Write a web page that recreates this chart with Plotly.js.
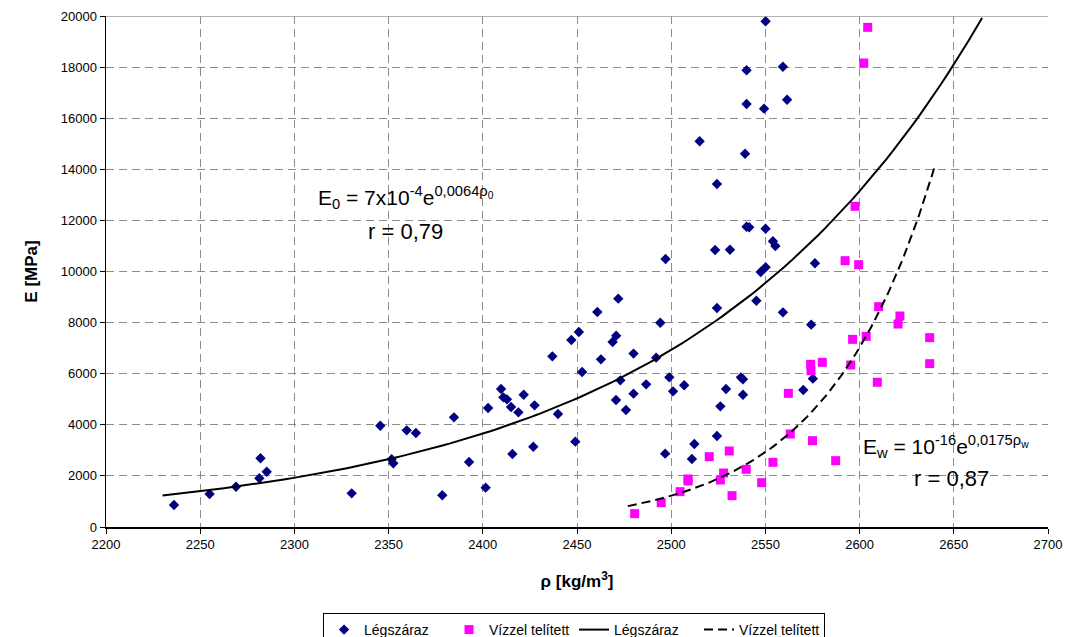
<!DOCTYPE html>
<html>
<head>
<meta charset="utf-8">
<script src="https://cdn.plot.ly/plotly-3.0.1.min.js"></script>
<style>html,body{margin:0;padding:0;background:#fff;}#chart{width:1075px;height:637px;}</style>
</head>
<body>
<div id="chart"></div>
<script>
// Légszáraz (air-dry) measurements
const dryRho = [2236.1,2255,2269,2281.4,2282,2285.3,2330.4,2345.6,2351.6,2352.5,2359.6,2364.5,2378.5,2384.7,2392.7,2401.5,2402.8,2409.7,2410.9,2412.8,2415,2415.7,2418.9,2421.7,2426.8,2427.5,2436.9,2439.9,2447,2449.1,2451,2452.7,2460.8,2462.7,2468.9,2470.8,2471.9,2470.7,2473,2476,2480,2480,2486.7,2492,2494.2,2497,2496.8,2499,2501,2506.9,2511,2512.3,2515.1,2523.3,2524.3,2524.3,2524.3,2526.1,2529.1,2531.2,2537,2538.1,2538.1,2539.2,2540,2540,2540,2541.4,2545.2,2547.5,2549.3,2550.1,2550.1,2550.1,2554,2555.3,2559.3,2559.3,2561.5,2570.1,2574.3,2575.2,2576.3];
const dryE = [861,1290,1577,1906,2689,2165,1318,3965,2650,2492,3783,3679,1240,4292,2544,1540,4658,5401,5075,4996,4697,2857,4488,5179,3143,4762,6680,4423,7319,3340,7632,6067,8415,6562,7241,7489,8937,4971,5740,4580,6786,5220,5584,6628,7997,10489,2870,5858,5309,5546,2661,3249,15096,10841,13425,8571,3562,4723,5401,10853,5858,5780,5179,14611,17874,16556,11754,11730,8857,9980,16373,19793,11675,10164,11182,10998,18016,8402,16725,5362,7919,5806,10320];

// Vízzel telített (water-saturated) measurements
const wetRho = [2480.6,2494.7,2504.7,2508.9,2509,2520.2,2526.1,2527.8,2530.8,2532.3,2539.8,2548,2554,2562.2,2563.2,2574,2574.2,2575,2580.2,2587.3,2592.3,2595.3,2596.3,2597.6,2599.5,2602.2,2603.5,2604.3,2609.4,2610.1,2620.4,2621.4,2637.2,2637.2];
const wetE = [522,952,1383,1879,1800,2752,1840,2113,2974,1226,2257,1735,2531,5232,3640,6367,6118,3379,6445,2596,10423,6341,7344,12552,10267,18160,7462,19556,5664,8624,7945,8258,7410,6393];

// Exponential trendlines E = a*exp(b*rho) as drawn on the chart
const dryTrend = {a: 7.8e-4, b: 0.0064, from: 2230, to: 2665};
const wetTrend = {a: 1.22e-16, b: 0.0175, from: 2477, to: 2640};

const xTicks = [2200,2250,2300,2350,2400,2450,2500,2550,2600,2650,2700];
const yTicks = [0,2000,4000,6000,8000,10000,12000,14000,16000,18000,20000];

function trendXY(t){
  const xs=[], ys=[];
  const n=120;
  for(let i=0;i<=n;i++){
    const x=t.from+(t.to-t.from)*i/n;
    xs.push(x); ys.push(t.a*Math.exp(t.b*x));
  }
  return {xs, ys};
}
const dt = trendXY(dryTrend), wt = trendXY(wetTrend);

const FONT = 'Liberation Sans, Arial, sans-serif';

const traces = [
  {x: dryRho, y: dryE, mode: 'markers', type: 'scatter', name: 'Légszáraz',
   marker: {symbol: 'diamond', size: 8, color: '#000080'}},
  {x: wetRho, y: wetE, mode: 'markers', type: 'scatter', name: 'Vízzel telített',
   marker: {symbol: 'square', size: 9, color: '#FF00FF'}},
  {x: dt.xs, y: dt.ys, mode: 'lines', type: 'scatter', name: 'Légszáraz',
   line: {color: '#000', width: 2}},
  {x: wt.xs, y: wt.ys, mode: 'lines', type: 'scatter', name: 'Vízzel telített',
   line: {color: '#000', width: 2, dash: '9px,5px'}}
];

const layout = {
  width: 1075, height: 637,
  margin: {l: 106, r: 27, t: 16, b: 110, autoexpand: false},
  paper_bgcolor: '#fff', plot_bgcolor: '#fff',
  font: {family: FONT, size: 13, color: '#000'},
  showlegend: true,
  legend: {orientation: 'h', x: 0.2304, xanchor: 'left', y: -0.1683, yanchor: 'top',
    bordercolor: '#000', borderwidth: 1, font: {family: FONT, size: 14, color: '#000'},
    entrywidth: 80, entrywidthmode: 'pixels',
    itemsizing: 'trace', traceorder: 'normal', tracegroupgap: 0},
  xaxis: {range: [2200, 2700], tickvals: xTicks, ticktext: xTicks.map(String),
    showline: true, linecolor: '#000', linewidth: 1.5, ticks: 'outside', ticklen: 5, tickcolor: '#000',
    showgrid: true, gridcolor: '#8c8c8c', gridwidth: 1, griddash: '8px,5px', zeroline: false,
    tickfont: {family: FONT, size: 13},
    title: {text: 'ρ [kg/m<sup>3</sup>]', font: {family: FONT, size: 17, color: '#000', weight: 'bold'}, standoff: 24},
    automargin: false},
  yaxis: {range: [0, 20000], tickvals: yTicks, ticktext: yTicks.map(String),
    showline: true, linecolor: '#000', linewidth: 1.5, ticks: 'outside', ticklen: 5, tickcolor: '#000',
    showgrid: true, gridcolor: '#8c8c8c', gridwidth: 1, griddash: '8px,5px', zeroline: false,
    tickfont: {family: FONT, size: 13},
    title: {text: 'E [MPa]', font: {family: FONT, size: 17, color: '#000', weight: 'bold'}, standoff: 19},
    automargin: false},
  shapes: [
    {type: 'line', xref: 'paper', yref: 'y', x0: 0, x1: 1, y0: 20000, y1: 20000,
     line: {color: '#9a9a9a', width: 1.5}}
  ],
  annotations: [
    {x: 2359, y: 12916, xref: 'x', yref: 'y', showarrow: false, xanchor: 'center', yanchor: 'middle',
     text: 'E<sub>0</sub> = 7x10<sup>-4</sup>e<sup>0,0064ρ<sub>0</sub></sup>',
     font: {family: FONT, size: 21, color: '#000'}},
    {x: 2359, y: 11585, xref: 'x', yref: 'y', showarrow: false, xanchor: 'center', yanchor: 'middle',
     text: 'r = 0,79', font: {family: FONT, size: 22, color: '#000'}},
    {x: 2645.7, y: 3170, xref: 'x', yref: 'y', showarrow: false, xanchor: 'center', yanchor: 'middle',
     text: 'E<sub>w</sub> = 10<sup>-16</sup>e<sup>0,0175ρ<sub>w</sub></sup>',
     font: {family: FONT, size: 21, color: '#000'}},
    {x: 2649, y: 1879, xref: 'x', yref: 'y', showarrow: false, xanchor: 'center', yanchor: 'middle',
     text: 'r = 0,87', font: {family: FONT, size: 22, color: '#000'}}
  ]
};

Plotly.newPlot('chart', traces, layout, {displayModeBar: false, staticPlot: true});
</script>
</body>
</html>
